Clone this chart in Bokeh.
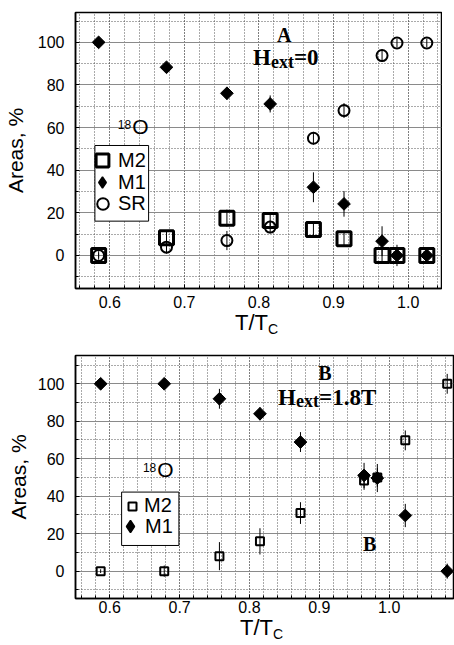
import math
from bokeh.plotting import figure
from bokeh.models import (Range1d, FixedTicker, Label, Legend, LegendItem,
                          ColumnDataSource, PrintfTickFormatter, BoxAnnotation, Div)
from bokeh.layouts import column
from bokeh.embed import file_html
from bokeh.resources import INLINE

# ---------------- data ----------------
# Panel A (Hext = 0)
a_t = [0.585, 0.676, 0.757, 0.815, 0.873, 0.914, 0.965, 0.985, 1.025]
a_m2 = [0, 8.3, 17.5, 16.4, 12.2, 7.8, 0, 0, 0]
a_m2_err = [2, 3, 4, 4, 3, 3, 3, 3, 2]
a_m1 = [100, 88.3, 76.1, 71.1, 32, 24.2, 6.7, 0, 0]
a_m1_err = [1, 2, 3, 4, 7, 6, 7, 5, 2]
a_sr = [0, 3.9, 7, 13.3, 55, 68, 93.8, 99.7, 99.7]
a_sr_err = [1, 3, 4.5, 3, 3, 3.5, 3, 2, 2]

# Panel B (Hext = 1.8T)
b_t = [0.587, 0.678, 0.757, 0.815, 0.873, 0.964, 0.983, 1.023, 1.083]
b_m2 = [0, 0, 8, 15.9, 31, 48.4, 50, 69.8, 100]
b_m2_err = [1, 3, 7.5, 7, 5.8, 5, 5, 5.3, 5.3]
b_m1 = [100, 100, 92, 84, 68.9, 51.1, 49.7, 29.7, 0]
b_m1_err = [1, 1, 5.3, 3.5, 5.3, 6.7, 7.5, 6.2, 4]

x_ticks = [0.6, 0.7, 0.8, 0.9, 1.0]
x_minor = [0.56, 0.58, 0.6, 0.62, 0.64, 0.66, 0.68, 0.7, 0.72, 0.74, 0.76,
           0.78, 0.8, 0.82, 0.84, 0.86, 0.88, 0.9, 0.92, 0.94, 0.96, 0.98,
           1.0, 1.02, 1.04, 1.06, 1.08]
y_ticks = [0, 20, 40, 60, 80, 100]
y_minor = [-10, 0, 10, 20, 30, 40, 50, 60, 70, 80, 90, 100, 110]

SANS = "Liberation Sans"
SERIF = "Liberation Serif"


def lohi(vals, errs):
    return [v - e for v, e in zip(vals, errs)], [v + e for v, e in zip(vals, errs)]


def make_fig(width, height, xr, yr, borders, tick_standoff_x, label_standoff):
    left, right, top, bottom = borders
    p = figure(width=width, height=height, output_backend="svg",
               toolbar_location=None, x_range=Range1d(*xr), y_range=Range1d(*yr),
               min_border_left=left, min_border_right=right,
               min_border_top=top, min_border_bottom=bottom)
    p.xaxis.ticker = FixedTicker(ticks=x_ticks, minor_ticks=x_minor)
    p.yaxis.ticker = FixedTicker(ticks=y_ticks, minor_ticks=y_minor)
    p.xaxis.formatter = PrintfTickFormatter(format="%.1f")
    for g in (p.xgrid, p.ygrid):
        g.minor_grid_line_color = "#555555"
        g.minor_grid_line_dash = "1 2"
        g.minor_grid_line_width = 1
    p.xgrid.grid_line_color = "#555555"
    p.xgrid.grid_line_dash = "1 2"
    p.ygrid.grid_line_color = "#8a8a8a"
    p.ygrid.grid_line_width = 1.2
    for ax in (p.xaxis, p.yaxis):
        ax.major_tick_in = 4
        ax.major_tick_out = 0
        ax.minor_tick_in = 3
        ax.minor_tick_out = 0
        ax.axis_line_color = "black"
        ax.axis_line_width = 1.5
        ax.major_tick_line_color = "black"
        ax.minor_tick_line_color = "black"
        ax.major_label_text_font = SANS
        ax.major_label_text_font_size = "16px"
        ax.major_label_text_color = "black"
    p.yaxis.major_label_standoff = 11
    p.xaxis.major_label_standoff = tick_standoff_x
    p.yaxis.axis_label = "Areas, %"
    p.yaxis.axis_label_text_font = SANS
    p.yaxis.axis_label_text_font_size = "21px"
    p.yaxis.axis_label_text_font_style = "normal"
    p.yaxis.axis_label_text_color = "black"
    p.yaxis.axis_label_standoff = label_standoff
    p.outline_line_color = "black"
    p.outline_line_width = 1.5
    p.outline_line_alpha = 1
    p.background_fill_color = "white"
    p.border_fill_color = "white"
    return p


def lbl(p, x, y, text, size, font=SANS, style="normal", align="left", xo=0, yo=0):
    shift = round(0.33 * size)
    p.add_layout(Label(x=x, y=y, text=text,
                       text_font=font, text_font_size="%dpx" % size,
                       text_font_style=style, text_align=align,
                       text_baseline="alphabetic", text_color="black",
                       x_offset=xo, y_offset=yo + shift))


def legend_box(p, left, right, bottom, top):
    p.add_layout(BoxAnnotation(left=left, right=right, bottom=bottom, top=top,
                               fill_color="white", fill_alpha=1,
                               line_color="black", line_width=1, line_alpha=1))


def single_legend(p, label, renderer, g, loc, standoff):
    lg = Legend(items=[LegendItem(label=label, renderers=[renderer])], location=loc)
    lg.glyph_width = g
    lg.glyph_height = g
    lg.padding = 0
    lg.margin = 0
    lg.spacing = 0
    lg.label_standoff = standoff
    lg.label_text_font = SANS
    lg.label_text_font_size = "20px"
    lg.label_text_color = "black"
    lg.border_line_alpha = 0
    lg.background_fill_alpha = 0
    p.add_layout(lg)


def xlabel_div(left_px, line_h, height):
    html = ('<div style="padding-left:%dpx;margin:0;font-family:\'Liberation Sans\';'
            'font-size:22px;line-height:%dpx;white-space:nowrap;color:black">T/T'
            '<span style="font-size:14px;position:relative;top:4px">C</span></div>'
            % (left_px, line_h))
    return Div(text=html, width=454, height=height, margin=0)


# ---------------- Panel A ----------------
pa = make_fig(442, 314, (0.554, 1.0447), (-15.5, 114), (73, 1, 12, 26), 7, 8)
m2_lo, m2_hi = lohi(a_m2, a_m2_err)
m1_lo, m1_hi = lohi(a_m1, a_m1_err)
sr_lo, sr_hi = lohi(a_sr, a_sr_err)
sa = ColumnDataSource(dict(t=a_t, m2=a_m2, m1=a_m1, sr=a_sr,
                           m2_lo=m2_lo, m2_hi=m2_hi, m1_lo=m1_lo, m1_hi=m1_hi,
                           sr_lo=sr_lo, sr_hi=sr_hi))
for lo, hi in (("m2_lo", "m2_hi"), ("m1_lo", "m1_hi"), ("sr_lo", "sr_hi")):
    pa.segment(x0="t", y0=lo, x1="t", y1=hi, source=sa, line_color="black",
               line_width=1)
ra_m2 = pa.scatter("t", "m2", source=sa, marker="square", size=14,
                   line_color="black", line_width=3, fill_alpha=0)
ra_sr = pa.scatter("t", "sr", source=sa, marker="circle", size=11,
                   line_color="black", line_width=2, fill_alpha=0)
ra_m1 = pa.scatter("t", "m1", source=sa, marker="square", angle=math.pi / 4,
                   size=9, line_color="black", fill_color="black", line_width=1)
# legend-only proxy (diamond drawn upright in the legend)
ra_m1_leg = pa.scatter("t", "m1", source=sa, marker="diamond", size=12,
                       line_color="black", fill_color="black", line_width=1.5,
                       visible=False)

legend_box(pa, 0.580, 0.652, 16.1, 51.6)
single_legend(pa, "M2", ra_m2, 32, (11, 112), 0)
single_legend(pa, "M1", ra_m1_leg, 28, (13, 92), 2)
single_legend(pa, "SR", ra_sr, 29, (13, 70), 1)

lbl(pa, 0.834, 100, "A", 20, SERIF, "bold", align="center")
lbl(pa, 0.792, 89.1, "H", 23, SERIF, "bold")
lbl(pa, 0.792, 89.1, "ext", 18, SERIF, "bold", xo=18, yo=-2)
lbl(pa, 0.792, 89.1, "=0", 23, SERIF, "bold", xo=41)
lbl(pa, 0.63, 57, "O", 21)
lbl(pa, 0.63, 57, "18", 12, align="right", xo=-1, yo=5)

div_a = xlabel_div(235, 18, 26)

# ---------------- Panel B ----------------
pb = make_fig(454, 280, (0.551, 1.092), (-14.6, 115.1), (73, 1, 15, 22), 2, 5)
bm2_lo, bm2_hi = lohi(b_m2, b_m2_err)
bm1_lo, bm1_hi = lohi(b_m1, b_m1_err)
sb = ColumnDataSource(dict(t=b_t, m2=b_m2, m1=b_m1, m2_lo=bm2_lo, m2_hi=bm2_hi,
                           m1_lo=bm1_lo, m1_hi=bm1_hi))
for lo, hi in (("m2_lo", "m2_hi"), ("m1_lo", "m1_hi")):
    pb.segment(x0="t", y0=lo, x1="t", y1=hi, source=sb, line_color="black",
               line_width=1)
rb_m2 = pb.scatter("t", "m2", source=sb, marker="square", size=8,
                   line_color="black", line_width=2, fill_alpha=0)
rb_m1 = pb.scatter("t", "m1", source=sb, marker="square", angle=math.pi / 4,
                   size=9, line_color="black", fill_color="black", line_width=1)
rb_m1_leg = pb.scatter("t", "m1", source=sb, marker="diamond", size=12,
                       line_color="black", fill_color="black", line_width=1.5,
                       visible=False)

legend_box(pb, 0.617, 0.699, 13.7, 42.2)
single_legend(pb, "M2", rb_m2, 20, (47, 81), 2)
single_legend(pb, "M1", rb_m1_leg, 30, (40, 57), 0)

lbl(pb, 0.908, 101.8, "B", 20, SERIF, "bold", align="center")
lbl(pb, 0.972, 11, "B", 20, SERIF, "bold", align="center")
lbl(pb, 0.841, 88.5, "H", 23, SERIF, "bold")
lbl(pb, 0.841, 88.5, "ext", 18, SERIF, "bold", xo=18, yo=-2)
lbl(pb, 0.841, 88.5, "=1.8T", 23, SERIF, "bold", xo=41)
lbl(pb, 0.668, 50.6, "O", 21)
lbl(pb, 0.668, 50.6, "18", 12, align="right", xo=-1, yo=5)

div_b = xlabel_div(240, 15, 25)

layout = column(pa, div_a, pb, div_b, spacing=0)
open("out.html", "w").write(file_html(layout, INLINE))
